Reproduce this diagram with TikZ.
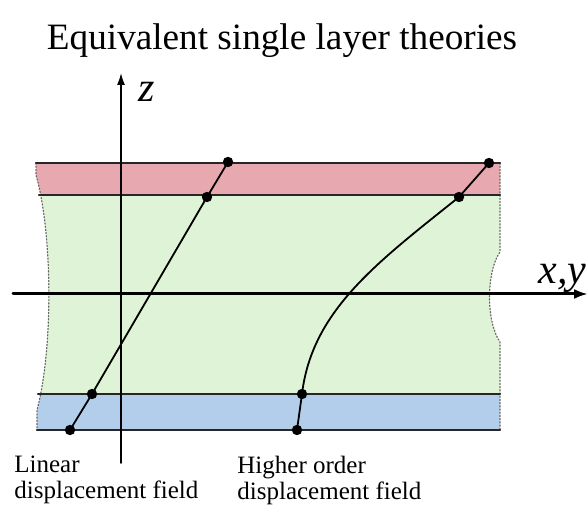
\documentclass[tikz,border=0pt]{standalone}
\usepackage{fontspec}
\setmainfont{Liberation Serif}
\usetikzlibrary{arrows.meta}
\definecolor{toplayer}{RGB}{232,168,176}
\definecolor{corelayer}{RGB}{223,243,214}
\definecolor{botlayer}{RGB}{178,206,234}
\tikzset{
  layerline/.style={line width=1.1pt, black!85},
  edgeline/.style={densely dotted, line width=0.6pt, black!60},
  field/.style={line width=0.9pt, black},
  dot/.style={fill=black}
}

\begin{document}
\begin{tikzpicture}[x=0.5pt, y=-0.5pt, line cap=round, line join=round, font=\rmfamily]
  \useasboundingbox (0,0) rectangle (588,507);

  % titolo
  \node[font=\rmfamily\fontsize{18.6}{20}\selectfont, anchor=base] (title) at (282,50) {Equivalent single layer theories};

  % strati
  \begin{scope}
    \clip (36,163) -- (500,163) -- (500,252) .. controls (486,272) and (486,322) .. (500,342)
      -- (500,430) -- (37,430) -- (37,410) .. controls (53,350) and (53,235) .. (36,175) -- cycle;
    \fill[toplayer] (0,163) rectangle (588,195);
    \fill[corelayer] (0,195) rectangle (588,394);
    \fill[botlayer] (0,394) rectangle (588,430);
  \end{scope}

  % bordi
  \draw[edgeline] (36,163) -- (36,175) .. controls (53,235) and (53,350) .. (37,410) -- (37,430);
  \draw[edgeline] (500,163) -- (500,252) .. controls (486,272) and (486,322) .. (500,342) -- (500,430);
  \draw[layerline] (36,163) -- (500,163);
  \draw[layerline] (39,195) -- (500,195);
  \draw[layerline] (38,394) -- (500,394);
  \draw[layerline] (37,430) -- (500,430);

  % assi
  \draw[-{Latex[length=7pt,width=5pt]}, line width=1.5pt] (13,294) -- (588,294);
  \draw[-{Latex[length=6pt,width=4pt]}, line width=0.8pt] (121,463) -- (121,73);
  \node[font=\rmfamily\itshape\fontsize{21}{21}\selectfont, anchor=base west] (zlab) at (131,102) {z};
  \node[font=\rmfamily\itshape\fontsize{21}{21}\selectfont, anchor=base east, inner sep=0pt] (xylab) at (587,284) {x,y};

  % campo lineare
  \coordinate (L0) at (70,430);
  \coordinate (L1) at (92,394);
  \coordinate (L2) at (207,197);
  \coordinate (L3) at (228,162);
  \draw[field] (L0) -- (L1) -- (L2) -- (L3);
  \foreach \p in {L0,L1,L2,L3} \fill[dot] (\p) circle (2.6pt);

  % campo di ordine superiore
  \coordinate (H0) at (297,430);
  \coordinate (H1) at (302,394);
  \coordinate (H2) at (459,197);
  \coordinate (H3) at (489,163);
  \draw[field] (H0) -- (H1) .. controls (312,310) and (378,262) .. (H2) -- (H3);
  \foreach \p in {H0,H1,H2,H3} \fill[dot] (\p) circle (2.6pt);

  % didascalie
  \node[font=\rmfamily\fontsize{12.5}{12.8}\selectfont, align=left, anchor=north west, inner sep=0pt] (lintext) at (14,456) {Linear\\displacement field};
  \node[font=\rmfamily\fontsize{12.5}{12.8}\selectfont, align=left, anchor=north west, inner sep=0pt] (hotext) at (237,456) {Higher order\\displacement field};
\end{tikzpicture}
\end{document}
